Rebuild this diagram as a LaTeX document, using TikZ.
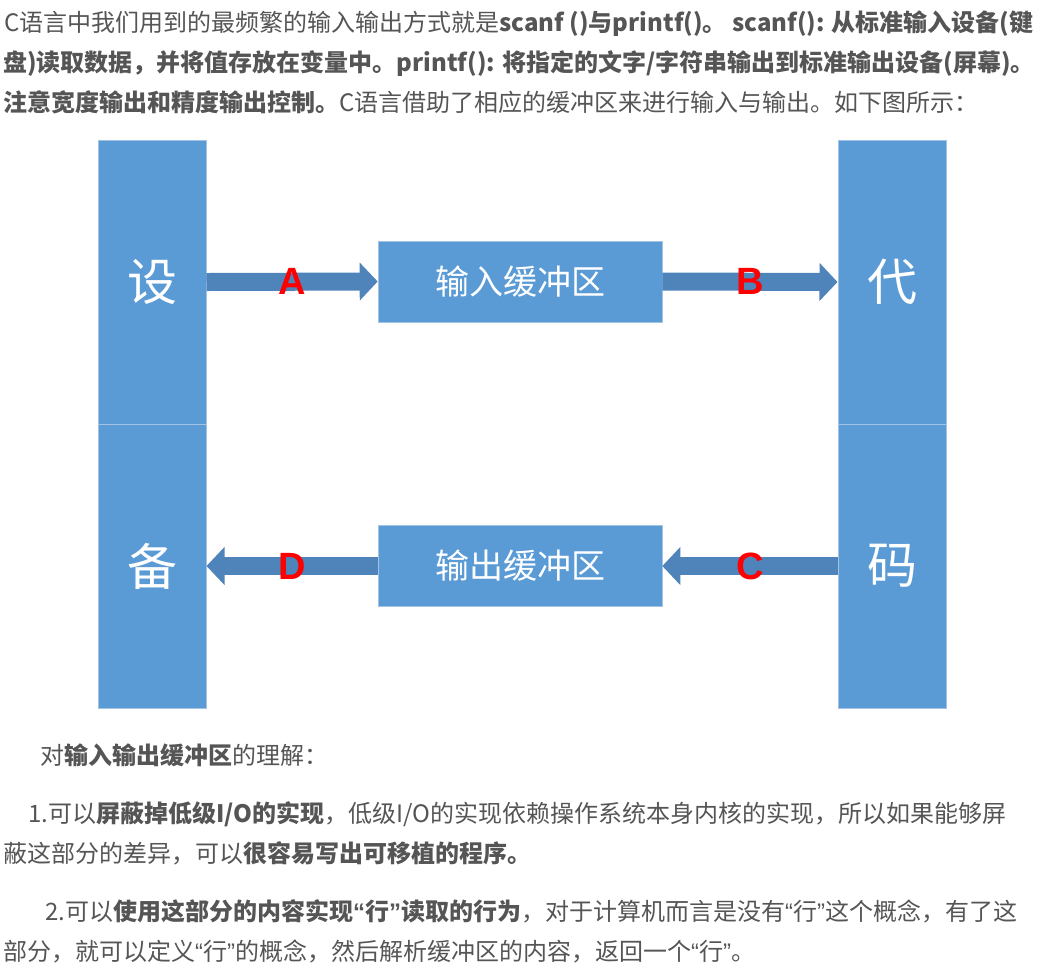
\documentclass[tikz,border=0pt]{standalone}
\usepackage{fontspec}
\usetikzlibrary{arrows.meta}
\newfontfamily\cjk{Noto Sans CJK SC}
\newfontfamily\latinsans{Liberation Sans}
\definecolor{boxblue}{HTML}{5B9BD5}
\definecolor{arrowblue}{HTML}{4E84BA}
\definecolor{edgeblue}{HTML}{A3C2E4}
\definecolor{txtgray}{HTML}{555555}
\newcommand{\myLq}{{\latinsans “}}
\newcommand{\myRq}{{\latinsans ”}}
\begin{document}
\begin{tikzpicture}[x=1pt,y=-1pt,
  col/.style={draw=edgeblue, line width=1pt, fill=boxblue, minimum width=108pt, minimum height=284pt, inner sep=0pt, text=white, font=\cjk\fontsize{50}{50}\selectfont},
  buf/.style={draw=edgeblue, line width=0.6pt, fill=boxblue, minimum width=284pt, minimum height=81pt, inner sep=0pt, text=white, font=\cjk\fontsize{34}{34}\selectfont},
  flow/.style={draw=arrowblue, line width=18pt, -{Triangle[length=18pt,width=37pt]}},
  lbl/.style={text=red, font=\latinsans\bfseries\fontsize{38}{38}\selectfont, inner sep=0pt},
  para/.style={anchor=base west, inner sep=0pt, text=txtgray, font=\cjk\fontsize{24}{24}\selectfont}]
\useasboundingbox (0,0) rectangle (1049,978);
\fill[white] (0,0) rectangle (1049,978);

% text above
\node[para] (t1) at (4,31) {C语言中我们用到的最频繁的输入输出方式就是\textbf{scanf ()与printf()。 scanf(): 从标准输入设备(键}};
\node[para] (t2) at (3,71) {\textbf{盘)读取数据，并将值存放在变量中。printf(): 将指定的文字/字符串输出到标准输出设备(屏幕)。}};
\node[para] (t3) at (3,111) {\textbf{注意宽度输出和精度输出控制。}C语言借助了相应的缓冲区来进行输入与输出。如下图所示：};

% columns
\node[col] (dev1) at (152,282) {设};
\node[col] (dev2) at (152,566) {备};
\node[col] (code1) at (892,282) {代};
\node[col] (code2) at (892,566) {码};

% buffers
\node[buf] (inbuf) at (520,281.5) {输入缓冲区};
\node[buf] (outbuf) at (520,566) {输出缓冲区};

% arrows
\draw[flow] (dev1.east) -- node[lbl] {A} (inbuf.west);
\draw[flow] (inbuf.east) -- node[lbl] {B} (code1.west);
\draw[flow] (code2.west) -- node[lbl] {C} (outbuf.east);
\draw[flow] (outbuf.west) -- node[lbl] {D} (dev2.east);

% text below
\node[para] (b1) at (40,764) {对\textbf{输入输出缓冲区}的理解：};
\node[para] (b2) at (28,822) {1.可以\textbf{屏蔽掉低级I/O的实现}，低级I/O的实现依赖操作系统本身内核的实现，所以如果能够屏};
\node[para] (b3) at (3,862) {蔽这部分的差异，可以\textbf{很容易写出可移植的程序。}};
\node[para] (b4) at (45,920) {2.可以\textbf{使用这部分的内容实现\myLq 行\myRq 读取的行为}，对于计算机而言是没有\myLq 行\myRq 这个概念，有了这};
\node[para] (b5) at (3,960) {部分，就可以定义\myLq 行\myRq 的概念，然后解析缓冲区的内容，返回一个\myLq 行\myRq 。};
\end{tikzpicture}
\end{document}
